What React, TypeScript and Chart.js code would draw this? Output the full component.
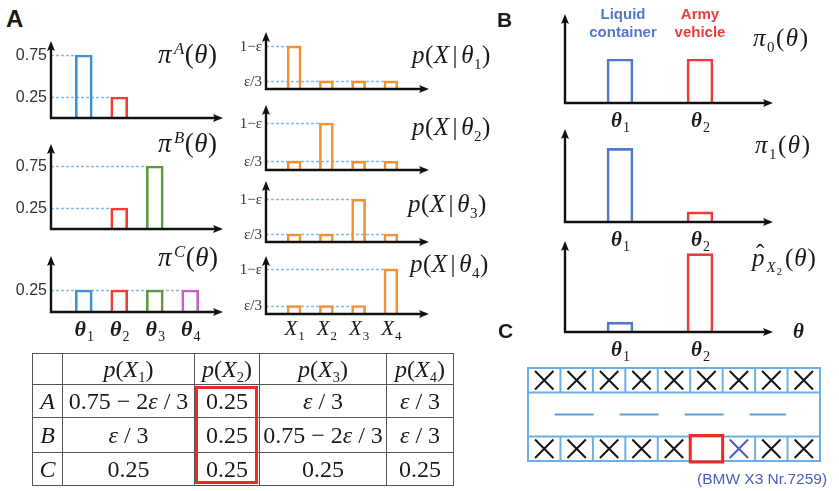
import React, { useEffect, useRef } from 'react';
import { Chart, registerables } from 'chart.js';
Chart.register(...registerables);

// ---------------- data ----------------
const thetaLabels4 = ['θ1', 'θ2', 'θ3', 'θ4'];
const xLabels4 = ['X1', 'X2', 'X3', 'X4'];
const thetaLabels2 = ['θ1', 'θ2'];

const priorA = [0.75, 0.25, null, null];
const priorB = [null, 0.25, 0.75, null];
const priorC = [0.25, 0.25, 0.25, 0.25];
const priorTicksAB = [0.25, 0.75];
const priorTickLabelsAB = ['0.25', '0.75'];
const priorTicksC = [0.25];
const priorTickLabelsC = ['0.25'];

// drawn heights of 1−ε and ε/3
const likeTheta1 = [0.8, 0.15, 0.15, 0.15];
const likeTheta2 = [0.15, 0.8, 0.15, 0.15];
const likeTheta3 = [0.15, 0.15, 0.8, 0.15];
const likeTheta4 = [0.15, 0.15, 0.15, 0.8];
const likeTicks = [0.15, 0.8];
const likeTickLabels = ['ε/3', '1−ε'];

const pi0 = [0.5, 0.5];
const pi1 = [0.8, 0.11];
const pHatX2 = [0.11, 0.87];

const tableHeads = ['X1', 'X2', 'X3', 'X4'];
const tableRowNames = ['A', 'B', 'C'];
const tableCells = [
  ['0.75 − 2ε / 3', '0.25', 'ε / 3', 'ε / 3'],
  ['ε / 3', '0.25', '0.75 − 2ε / 3', 'ε / 3'],
  ['0.25', '0.25', '0.25', '0.25'],
];

// panel C: k = black cross, b = blue cross, hit = red highlighted empty cell
const gridTop = ['k', 'k', 'k', 'k', 'k', 'k', 'k', 'k', 'k'];
const gridBottom = ['k', 'k', 'k', 'k', 'k', 'hit', 'b', 'k', 'k'];
const dashStart = 0.82;
const dashEnd = 7.95;

// ---------------- styles ----------------
const SERIF = "'Liberation Serif', 'Times New Roman', serif";
const SANS = "'Liberation Sans', Arial, sans-serif";
const C_BLUE = '#3d8fd9';
const C_RED = '#f03c32';
const C_GREEN = '#5e9b3e';
const C_MAG = '#c95ccb';
const C_ORANGE = '#f5922f';
const C_BBLUE = '#5377cc';
const C_BRED = '#ee3a3a';
const C_GUIDE = '#86bbe8';
const C_GRID = '#6eaee8';

type MiniCfg = {
  area: [number, number, number, number];
  labels: string[];
  values: (number | null)[];
  colors: string[];
  yMax: number;
  barPx: number;
  gap: number;
  extend: number;
  ticks?: number[];
  tickLabels?: string[];
  tickFont?: string;
  showLabels?: boolean;
  mainFont?: string;
  subFont?: string;
  labelDy?: number;
  axisLabel?: string;
};

function drawSubLabel(ctx: CanvasRenderingContext2D, text: string, cx: number, base: number, mainFont: string, subFont: string) {
  const main = text.slice(0, 1);
  const sub = text.slice(1);
  ctx.font = mainFont;
  const w1 = ctx.measureText(main).width;
  ctx.font = subFont;
  const w2 = ctx.measureText(sub).width;
  const x0 = cx - (w1 + w2) / 2;
  ctx.textAlign = 'left';
  ctx.textBaseline = 'alphabetic';
  ctx.font = mainFont;
  ctx.fillText(main, x0, base);
  ctx.font = subFont;
  ctx.fillText(sub, x0 + w1 + 1, base + 5);
}

function makePlugin(cfg: MiniCfg) {
  return {
    id: 'miniAxes',
    beforeDatasetsDraw(chart: any) {
      const { ctx, chartArea: a, scales } = chart;
      const y = scales.y;
      const meta = chart.getDatasetMeta(0);
      const ax = a.left - cfg.gap;
      ctx.save();
      ctx.strokeStyle = C_GUIDE;
      ctx.lineWidth = 1.3;
      ctx.setLineDash([3, 2]);
      (cfg.ticks || []).forEach((v) => {
        let last = -1;
        cfg.values.forEach((d, i) => {
          if (d === v) last = i;
        });
        if (last < 0) return;
        const bar: any = meta.data[last];
        const py = Math.round(y.getPixelForValue(v)) + 0.5;
        ctx.beginPath();
        ctx.moveTo(ax, py);
        ctx.lineTo(bar.x - bar.width / 2, py);
        ctx.stroke();
      });
      ctx.restore();
    },
    afterDatasetsDraw(chart: any) {
      const { ctx, chartArea: a, scales } = chart;
      const x = scales.x;
      const y = scales.y;
      const ax = a.left - cfg.gap;
      const tip = a.right + cfg.extend;
      ctx.save();
      ctx.strokeStyle = '#111';
      ctx.fillStyle = '#111';
      ctx.lineWidth = 2.4;
      ctx.beginPath();
      ctx.moveTo(ax, a.bottom);
      ctx.lineTo(ax, a.top + 6);
      ctx.moveTo(ax - 1.2, a.bottom);
      ctx.lineTo(tip - 6, a.bottom);
      ctx.stroke();
      ctx.beginPath();
      ctx.moveTo(ax, a.top - 1);
      ctx.lineTo(ax - 4, a.top + 9);
      ctx.lineTo(ax, a.top + 7);
      ctx.lineTo(ax + 4, a.top + 9);
      ctx.closePath();
      ctx.fill();
      ctx.beginPath();
      ctx.moveTo(tip + 1, a.bottom);
      ctx.lineTo(tip - 9, a.bottom - 4);
      ctx.lineTo(tip - 7, a.bottom);
      ctx.lineTo(tip - 9, a.bottom + 4);
      ctx.closePath();
      ctx.fill();
      // tick labels
      ctx.fillStyle = '#333';
      ctx.textAlign = 'right';
      ctx.textBaseline = 'middle';
      ctx.font = cfg.tickFont || `16px ${SANS}`;
      (cfg.ticks || []).forEach((v, i) => {
        ctx.fillText((cfg.tickLabels || [])[i], ax - 4, y.getPixelForValue(v) + 1);
      });
      // category labels
      ctx.fillStyle = '#1a1a1a';
      if (cfg.showLabels) {
        cfg.labels.forEach((lab, i) => {
          drawSubLabel(ctx, lab, x.getPixelForValue(i), a.bottom + (cfg.labelDy || 24), cfg.mainFont!, cfg.subFont!);
        });
      }
      if (cfg.axisLabel) {
        ctx.font = cfg.mainFont!;
        ctx.textAlign = 'left';
        ctx.textBaseline = 'middle';
        ctx.fillText(cfg.axisLabel, tip + 21, a.bottom + 1);
      }
      ctx.restore();
    },
  };
}

function MiniBar({ cfg }: { cfg: MiniCfg }) {
  const ref = useRef<HTMLCanvasElement>(null);
  const [L, T, R, B] = cfg.area;
  const m = { l: 75, r: 75, t: 8, b: 40 };
  const left = L - m.l;
  const top = T - m.t;
  const w = R - L + m.l + m.r;
  const h = B - T + m.t + m.b;
  useEffect(() => {
    const chart = new Chart(ref.current!, {
      type: 'bar',
      data: {
        labels: cfg.labels,
        datasets: [
          {
            data: cfg.values as any,
            backgroundColor: 'rgba(255,255,255,0)',
            borderColor: cfg.colors,
            borderWidth: 2,
            borderSkipped: 'bottom',
            barThickness: cfg.barPx,
          },
        ],
      },
      options: {
        animation: false,
        responsive: false,
        maintainAspectRatio: false,
        events: [],
        layout: { padding: { left: m.l, right: m.r, top: m.t, bottom: m.b } },
        plugins: { legend: { display: false }, tooltip: { enabled: false } },
        scales: {
          x: { display: false, offset: true },
          y: { display: false, min: 0, max: cfg.yMax },
        },
      },
      plugins: [makePlugin(cfg) as any],
    });
    return () => chart.destroy();
  }, []);
  return <canvas ref={ref} width={w} height={h} style={{ position: 'absolute', left, top, width: w, height: h }} />;
}

function GridChart() {
  const ref = useRef<HTMLCanvasElement>(null);
  const area = [525, 365, 823, 464];
  const m = 12;
  const w = area[2] - area[0] + 2 * m;
  const h = area[3] - area[1] + 2 * m;
  useEffect(() => {
    const pts: any[] = [];
    const cols: string[] = [];
    const addRow = (row: string[], yy: number) =>
      row.forEach((c, i) => {
        if (c === 'k' || c === 'b') {
          pts.push({ x: i + 0.5, y: yy });
          cols.push(c === 'b' ? '#4b5cc6' : '#151515');
        }
      });
    addRow(gridTop, 3.3);
    addRow(gridBottom, 0.5);
    const plugin = {
      id: 'gridC',
      beforeDatasetsDraw(chart: any) {
        const { ctx, scales } = chart;
        const x = scales.x;
        const y = scales.y;
        ctx.save();
        ctx.strokeStyle = C_GRID;
        ctx.lineWidth = 2;
        const X = (v: number) => x.getPixelForValue(v);
        const Y = (v: number) => y.getPixelForValue(v);
        ctx.strokeRect(X(0), Y(3.8), X(9) - X(0), Y(0) - Y(3.8));
        ctx.beginPath();
        ctx.moveTo(X(0), Y(1));
        ctx.lineTo(X(9), Y(1));
        ctx.moveTo(X(0), Y(2.8));
        ctx.lineTo(X(9), Y(2.8));
        for (let i = 1; i < 9; i++) {
          ctx.moveTo(X(i), Y(0));
          ctx.lineTo(X(i), Y(1));
          ctx.moveTo(X(i), Y(2.8));
          ctx.lineTo(X(i), Y(3.8));
        }
        ctx.stroke();
        ctx.restore();
      },
      afterDatasetsDraw(chart: any) {
        const { ctx, scales } = chart;
        const x = scales.x;
        const y = scales.y;
        ctx.save();
        ctx.strokeStyle = '#ee2a22';
        ctx.lineWidth = 3;
        gridBottom.forEach((c, i) => {
          if (c !== 'hit') return;
          const x0 = x.getPixelForValue(i);
          const x1 = x.getPixelForValue(i + 1);
          const y0 = y.getPixelForValue(1);
          const y1 = y.getPixelForValue(0);
          ctx.strokeRect(x0, y0 - 1, x1 - x0, y1 - y0 + 2);
        });
        ctx.restore();
      },
    };
    const chart = new Chart(ref.current!, {
      type: 'scatter',
      data: {
        datasets: [
          {
            data: pts,
            pointStyle: 'crossRot',
            pointRadius: 13,
            pointBorderWidth: 2,
            pointBorderColor: cols,
            pointBackgroundColor: 'rgba(0,0,0,0)',
          } as any,
          {
            data: [
              { x: dashStart, y: 1.9 },
              { x: dashEnd, y: 1.9 },
            ],
            showLine: true,
            borderColor: '#5a9fe0',
            borderWidth: 2,
            borderDash: [39, 26],
            pointRadius: 0,
          } as any,
        ],
      },
      options: {
        animation: false,
        responsive: false,
        maintainAspectRatio: false,
        events: [],
        layout: { padding: m },
        plugins: { legend: { display: false }, tooltip: { enabled: false } },
        scales: {
          x: { type: 'linear', display: false, min: 0, max: 9 },
          y: { type: 'linear', display: false, min: 0, max: 3.8 },
        },
      },
      plugins: [plugin as any],
    });
    return () => chart.destroy();
  }, []);
  return (
    <canvas
      ref={ref}
      width={w}
      height={h}
      style={{ position: 'absolute', left: area[0] - m, top: area[1] - m, width: w, height: h }}
    />
  );
}

const Sub = ({ children }: { children: any }) => (
  <span style={{ fontSize: '0.6em', position: 'relative', top: '0.38em' }}>{children}</span>
);
const Sup = ({ children }: { children: any }) => (
  <span style={{ fontSize: '0.62em', position: 'relative', top: '-0.55em', marginLeft: 2 }}>{children}</span>
);

function Abs({ left, top, size, children, style }: any) {
  return (
    <div
      style={{
        position: 'absolute',
        left,
        top,
        fontFamily: SERIF,
        fontSize: size,
        lineHeight: 1,
        whiteSpace: 'nowrap',
        color: '#1a1a1a',
        ...style,
      }}
    >
      {children}
    </div>
  );
}

function mathText(s: string) {
  const parts = s.split('ε');
  const out: any[] = [];
  parts.forEach((p, i) => {
    if (i > 0) out.push(<i key={'e' + i}>ε</i>);
    out.push(<span key={'p' + i}>{p}</span>);
  });
  return out;
}

const colorsA = [C_BLUE, C_RED, C_GREEN, C_MAG];
const colorsOrange = [C_ORANGE, C_ORANGE, C_ORANGE, C_ORANGE];
const colorsB = [C_BBLUE, C_BRED];
const thetaMain = `italic bold 22px ${SERIF}`;
const thetaSub = `14px ${SERIF}`;
const likeTickFont = `15px ${SERIF}`;

const leftBase = { labels: thetaLabels4, colors: colorsA, barPx: 17, gap: 15, extend: 14, mainFont: thetaMain, subFont: thetaSub };
const midBase = {
  labels: xLabels4,
  colors: colorsOrange,
  barPx: 14,
  gap: 12,
  extend: 21,
  ticks: likeTicks,
  tickLabels: likeTickLabels,
  tickFont: likeTickFont,
  mainFont: `italic 21px ${SERIF}`,
  subFont: `13px ${SERIF}`,
};
const rightBase = { labels: thetaLabels2, colors: colorsB, barPx: 26, gap: 15, extend: 32, yMax: 1, mainFont: `italic bold 21px ${SERIF}`, subFont: thetaSub, showLabels: true, labelDy: 24 };

const charts: MiniCfg[] = [
  { ...leftBase, area: [66, 42, 208, 118], values: priorA, yMax: 0.905, ticks: priorTicksAB, tickLabels: priorTickLabelsAB },
  { ...leftBase, area: [66, 145, 208, 229], values: priorB, yMax: 1.0, ticks: priorTicksAB, tickLabels: priorTickLabelsAB },
  { ...leftBase, area: [66, 257, 208, 312], values: priorC, yMax: 0.625, ticks: priorTicksC, tickLabels: priorTickLabelsC, showLabels: true, labelDy: 24 },
  { ...midBase, area: [278, 33, 407, 89], values: likeTheta1, yMax: 1.04 },
  { ...midBase, area: [278, 106, 407, 170], values: likeTheta2, yMax: 1.09 },
  { ...midBase, area: [278, 182, 407, 242], values: likeTheta3, yMax: 1.12 },
  { ...midBase, area: [278, 257, 407, 314], values: likeTheta4, yMax: 1.01, showLabels: true, labelDy: 21 },
  { ...rightBase, area: [580, 15, 740, 103], values: pi0 },
  { ...rightBase, area: [580, 130, 740, 222], values: pi1 },
  { ...rightBase, area: [580, 242, 740, 332], values: pHatX2, axisLabel: 'θ' },
];

function PTitle({ left, top, sub }: { left: number; top: number; sub: string }) {
  return (
    <Abs left={left} top={top} size={25} style={{ letterSpacing: 0.5 }}>
      <i>p</i>(<i>X</i>
      <span style={{ margin: '0 3px' }}>|</span>
      <i>θ</i>
      <Sub>{sub}</Sub>)
    </Abs>
  );
}

function DataTable() {
  const colW = [30, 132, 65, 127, 67];
  const rowH = [31, 33, 35, 33];
  const cell: React.CSSProperties = { border: '1px solid #555', padding: 0, textAlign: 'center', verticalAlign: 'middle' };
  return (
    <table
      style={{
        position: 'absolute',
        left: 32,
        top: 353,
        width: 421,
        height: 132,
        borderCollapse: 'collapse',
        tableLayout: 'fixed',
        fontFamily: SERIF,
        fontSize: 24,
        lineHeight: 1,
        color: '#1a1a1a',
      }}
    >
      <colgroup>
        {colW.map((w, i) => (
          <col key={i} style={{ width: w }} />
        ))}
      </colgroup>
      <tbody>
        <tr style={{ height: rowH[0] }}>
          <td style={cell}></td>
          {tableHeads.map((hd) => (
            <td key={hd} style={cell}>
              <i>p</i>(<i>{hd[0]}</i>
              <Sub>{hd.slice(1)}</Sub>)
            </td>
          ))}
        </tr>
        {tableRowNames.map((rn, r) => (
          <tr key={rn} style={{ height: rowH[r + 1] }}>
            <td style={cell}>
              <i>{rn}</i>
            </td>
            {tableCells[r].map((c, j) => (
              <td key={j} style={cell}>
                {mathText(c)}
              </td>
            ))}
          </tr>
        ))}
      </tbody>
    </table>
  );
}

export default function App() {
  return (
    <div style={{ position: 'fixed', left: 0, top: 0, width: 839, height: 491, background: '#fff', overflow: 'hidden' }}>
      {charts.map((c, i) => (
        <MiniBar key={i} cfg={c} />
      ))}
      <GridChart />
      <DataTable />
      <div style={{ position: 'absolute', left: 195, top: 386, width: 63, height: 98, border: '3px solid #ee2a22', boxSizing: 'border-box' }} />

      <Abs left={6} top={7} size={24} style={{ fontFamily: SANS, fontWeight: 'bold' }}>A</Abs>
      <Abs left={497} top={9} size={21} style={{ fontFamily: SANS, fontWeight: 'bold' }}>B</Abs>
      <Abs left={498} top={320} size={21} style={{ fontFamily: SANS, fontWeight: 'bold' }}>C</Abs>

      <Abs left={158} top={41} size={27} style={{ letterSpacing: 0.5 }}>
        <i>π</i>
        <Sup><i>A</i></Sup>(<i>θ</i>)
      </Abs>
      <Abs left={158} top={130} size={27} style={{ letterSpacing: 0.5 }}>
        <i>π</i>
        <Sup><i>B</i></Sup>(<i>θ</i>)
      </Abs>
      <Abs left={158} top={244} size={27} style={{ letterSpacing: 0.5 }}>
        <i>π</i>
        <Sup><i>C</i></Sup>(<i>θ</i>)
      </Abs>

      <PTitle left={412} top={42} sub="1" />
      <PTitle left={412} top={114} sub="2" />
      <PTitle left={408} top={191} sub="3" />
      <PTitle left={410} top={251} sub="4" />

      <div style={{ position: 'absolute', left: 573, top: 5, width: 100, textAlign: 'center', fontFamily: SANS, fontWeight: 'bold', fontSize: 15, lineHeight: '18px', color: C_BBLUE }}>
        Liquid
        <br />
        container
      </div>
      <div style={{ position: 'absolute', left: 650, top: 5, width: 100, textAlign: 'center', fontFamily: SANS, fontWeight: 'bold', fontSize: 15, lineHeight: '18px', color: C_BRED }}>
        Army
        <br />
        vehicle
      </div>

      <Abs left={753} top={25} size={25} style={{ letterSpacing: 1.5 }}>
        <i>π</i>
        <Sub>0</Sub>(<i>θ</i>)
      </Abs>
      <Abs left={755} top={132} size={25} style={{ letterSpacing: 1.5 }}>
        <i>π</i>
        <Sub>1</Sub>(<i>θ</i>)
      </Abs>
      <Abs left={752} top={245} size={25} style={{ letterSpacing: 1 }}>
        <span style={{ position: 'relative' }}>
          <i>p</i>
          <span style={{ position: 'absolute', left: 4, top: -3 }}>ˆ</span>
        </span>
        <span style={{ fontSize: '0.6em', position: 'relative', top: '0.38em', marginRight: 2, marginLeft: 1 }}>
          <i>X</i>
          <span style={{ fontSize: '0.7em', position: 'relative', top: '0.3em' }}>2</span>
        </span>
        (<i>θ</i>)
      </Abs>

      <div style={{ position: 'absolute', left: 697, top: 471, fontFamily: SANS, fontSize: 15.5, lineHeight: 1, color: '#4a5fbf', whiteSpace: 'nowrap' }}>
        (BMW X3 Nr.7259)
      </div>
    </div>
  );
}
